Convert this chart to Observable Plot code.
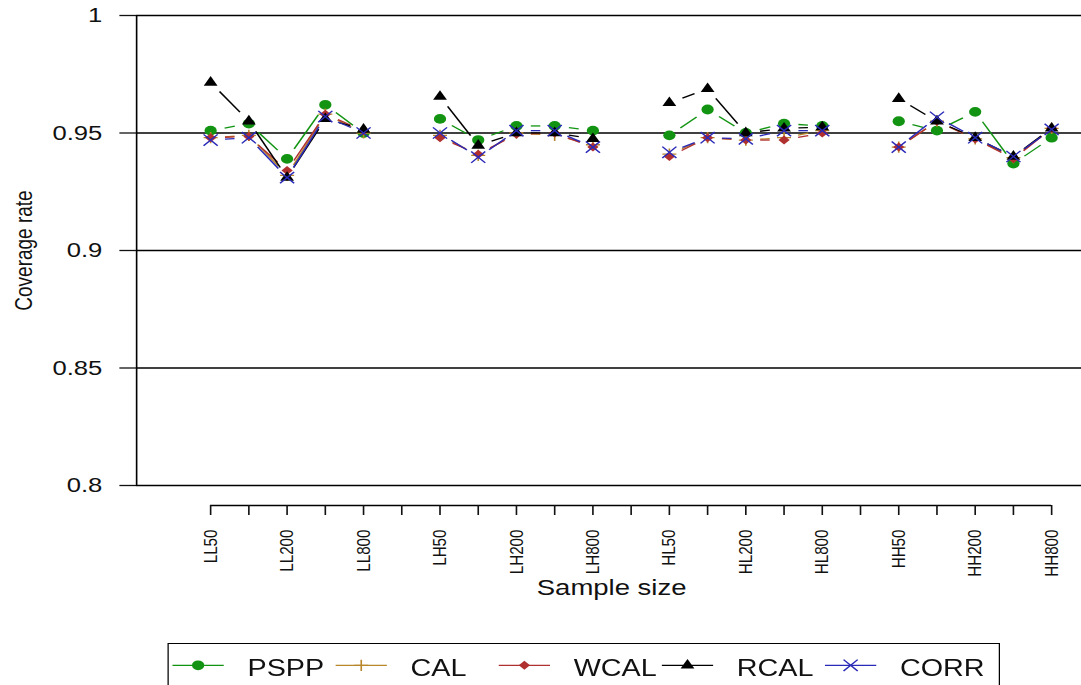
<!DOCTYPE html>
<html><head><meta charset="utf-8">
<script src="https://cdn.jsdelivr.net/npm/d3@7"></script>
<script src="https://cdn.jsdelivr.net/npm/@observablehq/plot@0.6"></script>
<style>
html,body{margin:0;padding:0;background:#fff;overflow:hidden;width:1081px;height:685px}
#wrap{position:relative;width:865px;height:685px;transform:scaleX(1.25);transform-origin:0 0;font-family:"Liberation Sans",Arial,sans-serif;color:#111}
#legend{position:absolute;left:133.6px;top:643px;width:666px;height:60px;border:1.4px solid #000;box-sizing:border-box;background:#fff}
#legend svg{display:block;overflow:visible}
</style></head><body><div id="wrap"></div>
<script>
// ---- data ----
const categories = ["LL50","LL100","LL200","LL400","LL800","",
  "LH50","LH100","LH200","LH400","LH800","",
  "HL50","HL100","HL200","HL400","HL800","",
  "HH50","HH100","HH200","HH400","HH800"];
const yTicks = [0.8, 0.85, 0.9, 0.95, 1];
const seriesNames = ["PSPP", "CAL", "WCAL", "RCAL", "CORR"];
const pspp = [0.951,0.954,0.939,0.962,0.950,null,0.956,0.947,0.953,0.953,0.951,null,0.949,0.960,0.950,0.954,0.953,null,0.955,0.951,0.959,0.937,0.948];
const cal  = [0.948,0.949,0.932,0.958,0.950,null,0.949,0.9405,0.950,0.949,0.945,null,0.941,0.948,0.947,0.948,0.951,null,0.944,0.955,0.9475,0.9395,0.952];
const wcal = [0.948,0.9485,0.934,0.958,0.951,null,0.948,0.941,0.9495,0.950,0.944,null,0.940,0.948,0.947,0.947,0.950,null,0.944,0.955,0.9475,0.939,0.952];
const rcal = [0.9715,0.955,0.931,0.956,0.9515,null,0.9655,0.9447,0.950,0.950,0.9475,null,0.9628,0.9688,0.950,0.952,0.9525,null,0.9646,0.955,0.948,0.940,0.952];
const corr = [0.947,0.948,0.931,0.957,0.950,null,0.950,0.9397,0.951,0.951,0.944,null,0.9418,0.948,0.9475,0.951,0.951,null,0.944,0.9567,0.948,0.940,0.9515];
const seriesValues = [pspp, cal, wcal, rcal, corr];
const yLabel = "Coverage rate";
const xLabel = "Sample size";

// ---- styles ----
const colors = ["#129412", "#b8862b", "#b03030", "#000000", "#2a2ab8"];
const diamond = {draw(ctx, size){const r = Math.sqrt(size/2); ctx.moveTo(0,-r); ctx.lineTo(r,0); ctx.lineTo(0,r); ctx.lineTo(-r,0); ctx.closePath();}};
const symbols = ["circle", "plus", diamond, "triangle", "times"];
const d3symbols = [d3.symbolCircle, d3.symbolPlus, diamond, d3.symbolTriangle, d3.symbolTimes];
const radii = [4.9, 3.7, 3.6, 4.1, 5.2];
const filled = [true, false, true, true, false];
const GAP = 11.5;

const W = 865, H = 630;
const xOpts = {type: "linear", domain: [-1.936, 22.915], range: [108.8, 868.8]};
const yOpts = {type: "linear", domain: [yTicks[0], yTicks[yTicks.length-1]], range: [485, 15]};
const xs = Plot.scale({x: xOpts});
const ys = Plot.scale({y: yOpts});

// points and gapped segments (type = "b")
const marks = [];
marks.push(Plot.ruleY(yTicks, {stroke: "#000", strokeWidth: 1.3}));
marks.push(Plot.ruleX([{x: xOpts.domain[0], y1: yOpts.domain[0], y2: yOpts.domain[1]}], {x: "x", y1: "y1", y2: "y2", stroke: "#000", strokeWidth: 1.3}));
marks.push(Plot.ruleY([{y: yOpts.domain[0], x1: 0, x2: categories.length - 1}], {y: "y", x1: "x1", x2: "x2", dy: 20, stroke: "#000", strokeWidth: 1.3}));

seriesValues.forEach((vals, k) => {
  const pts = [];
  const segs = [];
  vals.forEach((v, i) => { if (v != null) pts.push({i, v}); });
  for (let i = 0; i < vals.length - 1; i++) {
    const a = vals[i], b = vals[i+1];
    if (a == null || b == null) continue;
    const dx = xs.apply(i+1) - xs.apply(i), dy = ys.apply(b) - ys.apply(a);
    const len = Math.hypot(dx, dy);
    if (len <= 2*GAP) continue;
    const t = GAP / len;
    segs.push({x1: i + t, y1: a + t*(b-a), x2: (i+1) - t, y2: b - t*(b-a)});
  }
  marks.push(Plot.link(segs, {x1: "x1", y1: "y1", x2: "x2", y2: "y2", stroke: colors[k], strokeWidth: 1.3}));
  marks.push(Plot.dot(pts, {x: "i", y: "v", symbol: symbols[k], r: radii[k],
    fill: filled[k] ? colors[k] : "none", stroke: filled[k] ? "none" : colors[k], strokeWidth: 1.3}));
});

marks.push(Plot.axisY(yTicks, {anchor: "left", tickSize: 13.3, tickPadding: 14.2, fontSize: 20.5, tickFormat: d => String(d), strokeWidth: 1.3}));
marks.push(Plot.axisX(d3.range(categories.length), {anchor: "bottom", tickSize: 10, tickPadding: 14, tickRotate: -90, fontSize: 15.2,
  tickFormat: i => i % 2 === 0 ? categories[i] : "", strokeWidth: 1.3}));
marks.push(Plot.text([{t: yLabel, y: (yOpts.domain[0] + yOpts.domain[1]) / 2}], {text: "t", y: "y", frameAnchor: "left", dx: -84, rotate: -90, textAnchor: "middle", lineAnchor: "bottom", fontSize: 19}));
marks.push(Plot.text([{t: xLabel, x: (xOpts.domain[0] + xOpts.domain[1]) / 2}], {text: "t", x: "x", frameAnchor: "bottom", dy: 89, textAnchor: "middle", lineAnchor: "bottom", fontSize: 22}));

const chart = Plot.plot({
  width: W, height: H,
  marginLeft: 108.8, marginRight: 0, marginTop: 15, marginBottom: 125,
  x: xOpts, y: yOpts,
  style: {fontFamily: "Liberation Sans, Arial, sans-serif", color: "#111", background: "#fff", overflow: "visible"},
  marks
});
const wrap = document.getElementById("wrap");
wrap.appendChild(chart);

// ---- legend ----
const legend = d3.select(wrap).append("div").attr("id", "legend");
const lsvg = legend.append("svg").attr("width", 663).attr("height", 56);
seriesNames.forEach((name, k) => {
  const g = lsvg.append("g").attr("transform", `translate(${3 + k*130.5},0)`);
  g.append("line").attr("x1", 0).attr("x2", 41).attr("y1", 21.3).attr("y2", 21.3).attr("stroke", colors[k]).attr("stroke-width", 1.3);
  g.append("path").attr("transform", "translate(20.5,21.3)")
    .attr("d", d3.symbol(d3symbols[k], Math.PI * radii[k] * radii[k])())
    .attr("fill", filled[k] ? colors[k] : "none").attr("stroke", filled[k] ? "none" : colors[k]).attr("stroke-width", 1.3);
  g.append("text").attr("x", 60).attr("y", 31.6).attr("font-size", 23).attr("fill", "#111")
    .attr("font-family", "Liberation Sans, Arial, sans-serif").text(name);
});
</script></body></html>
